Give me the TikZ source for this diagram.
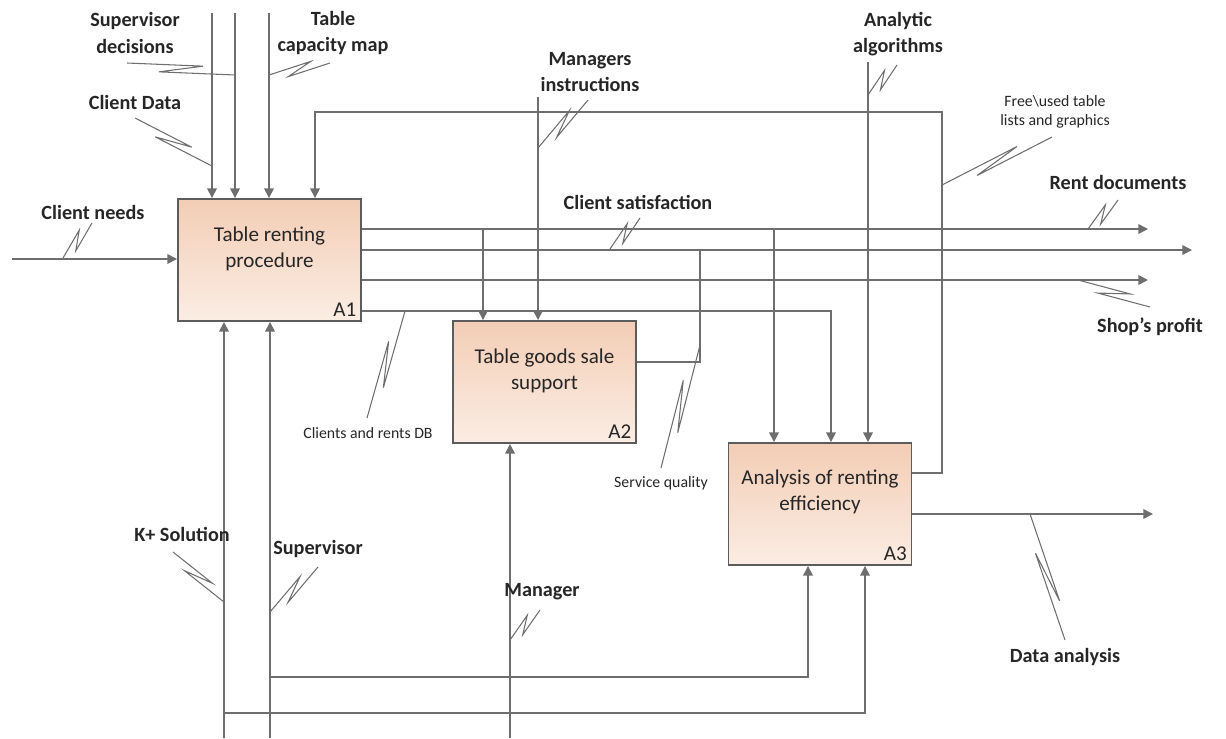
\documentclass[tikz,border=0pt]{standalone}
\usepackage{fontspec}
\setmainfont{Carlito}
\usetikzlibrary{arrows.meta, positioning, calc}

\definecolor{wire}{HTML}{6E6E6E}
\definecolor{edge}{HTML}{5C5C5C}
\definecolor{boxtop}{HTML}{F3CDB5}
\definecolor{boxbot}{HTML}{FBEDE4}
\definecolor{ink}{HTML}{262626}

\tikzset{
  fbox/.style={draw=edge, line width=1.1pt, top color=boxtop, bottom color=boxbot,
    minimum width=3.66cm, minimum height=2.44cm, inner sep=0pt},
  boxtext/.style={align=center, text=ink, font=\fontsize{12}{15}\selectfont},
  boxid/.style={text=ink, font=\fontsize{12}{14}\selectfont, inner sep=3pt},
  flow/.style={draw=wire, line width=0.85pt},
  arr/.style={flow, ->},
  squig/.style={draw=wire, line width=0.6pt, line join=miter},
  lbl/.style={align=center, text=ink, font=\fontsize{11.5}{15}\selectfont\bfseries},
  small/.style={align=center, text=ink, font=\fontsize{9}{11}\selectfont}
}

% IDEF0 squiggle: from the arrow to its label
\newcommand{\idefsquig}[2]{%
  \draw[squig] #1 -- ($#1!0.7!#2!3pt!90:#2$) -- ($#1!0.3!#2!3pt!-90:#2$) -- #2;}

\begin{document}
\begin{tikzpicture}[x=0.02cm, y=-0.02cm, >={Triangle[length=5.5pt,width=5.5pt]}]
\useasboundingbox (0,0) rectangle (1226,738);

% activities
\node[fbox] (A1) at (269.5,260) {};
\node[fbox] (A2) at (544.5,382) {};
\node[fbox] (A3) at (820,504) {};
\node[boxtext] (t1) at (269.5,249) {Table renting\\procedure};
\node[boxtext] (t2) at (544.5,371) {Table goods sale\\support};
\node[boxtext] (t3) at (820,492) {Analysis of renting\\efficiency};
\node[boxid, anchor=south east] (n1) at (A1.south east) {A1};
\node[boxid, anchor=south east] (n2) at (A2.south east) {A2};
\node[boxid, anchor=south east] (n3) at (A3.south east) {A3};

% free ends
\coordinate (cnIn) at (12,259);
\coordinate (cdTop) at (212,13);
\coordinate (sdTop) at (235,13);
\coordinate (tcTop) at (269,13);
\coordinate (miTop) at (538,97);
\coordinate (aaTop) at (868,62);
\coordinate (rdEnd) at (1148,229);
\coordinate (csEnd) at (1192,250);
\coordinate (spEnd) at (1148,280);
\coordinate (dbTurn) at (831,311);
\coordinate (rdA2) at (483,229);
\coordinate (rdA3) at (774,229);
\coordinate (sqUp) at (700,250);
\coordinate (sqTurn) at (700,362);
\coordinate (fbR) at (942,473);
\coordinate (fbT) at (942,112);
\coordinate (fbL) at (315,112);
\coordinate (daEnd) at (1153,514);
\coordinate (ksBot) at (224,738);
\coordinate (svBot) at (270,738);
\coordinate (mgBot) at (510,738);
\coordinate (svJog) at (270,677);
\coordinate (svA3) at (808,677);
\coordinate (ksJog) at (224,713);
\coordinate (ksA3) at (865,713);

% inputs and controls
\draw[arr] (cnIn) -- (cnIn -| A1.west);
\draw[arr] (cdTop) -- (cdTop |- A1.north);
\draw[arr] (sdTop) -- (sdTop |- A1.north);
\draw[arr] (tcTop) -- (tcTop |- A1.north);
\draw[arr] (miTop) -- (miTop |- A2.north);
\draw[arr] (aaTop) -- (aaTop |- A3.north);

% outputs of A1
\draw[arr] (rdEnd -| A1.east) -- (rdEnd);
\draw[arr] (csEnd -| A1.east) -- (csEnd);
\draw[arr] (spEnd -| A1.east) -- (spEnd);
\draw[arr] (rdA2) -- (rdA2 |- A2.north);
\draw[arr] (rdA3) -- (rdA3 |- A3.north);
\draw[arr] (dbTurn -| A1.east) -- (dbTurn) -- (dbTurn |- A3.north);

% A2 and A3 outputs
\draw[flow] (sqTurn -| A2.east) -- (sqTurn) -- (sqUp);
\draw[arr] (fbR -| A3.east) -- (fbR) -- (fbT) -- (fbL) -- (fbL |- A1.north);
\draw[arr] (daEnd -| A3.east) -- (daEnd);

% mechanisms
\draw[arr] (ksBot) -- (ksBot |- A1.south);
\draw[arr] (svBot) -- (svBot |- A1.south);
\draw[arr] (mgBot) -- (mgBot |- A2.south);
\draw[arr] (svJog) -- (svA3) -- (svA3 |- A3.south);
\draw[arr] (ksJog) -- (ksA3) -- (ksA3 |- A3.south);

% labels
\node[lbl] (lcn) at (93,212) {Client needs};
\node[lbl] (lsd) at (135,33) {Supervisor\\decisions};
\node[lbl] (ltc) at (333,33) {Table\\capacity map};
\node[lbl] (lcd) at (135,102) {Client Data};
\node[lbl] (lmi) at (590,72) {Managers\\instructions};
\node[lbl] (lcs) at (638,202) {Client satisfaction};
\node[lbl] (laa) at (898,34) {Analytic\\algorithms};
\node[small] (lfu) at (1055,112) {Free\textbackslash used table\\lists and graphics};
\node[lbl] (lrd) at (1118,182) {Rent documents};
\node[lbl] (lsp) at (1150,327) {Shop’s profit};
\node[small] (ldb) at (368,433) {Clients and rents DB};
\node[small] (lsq) at (661,483) {Service quality};
\node[lbl] (lks) at (182,534) {K+ Solution};
\node[lbl] (lsv) at (318,549) {Supervisor};
\node[lbl] (lmg) at (542,592) {Manager};
\node[lbl] (lda) at (1065,657) {Data analysis};

% squiggles
\idefsquig{(63,258)}{(92,223)}
\idefsquig{(235,75)}{(127,63)}
\idefsquig{(269,75)}{(330,63)}
\idefsquig{(212,166)}{(135,118)}
\idefsquig{(538,148)}{(588,100)}
\idefsquig{(610,249)}{(640,218)}
\idefsquig{(868,95)}{(897,65)}
\idefsquig{(942,185)}{(1052,137)}
\idefsquig{(1088,229)}{(1118,200)}
\idefsquig{(1078,280)}{(1150,307)}
\idefsquig{(405,311)}{(367,418)}
\idefsquig{(700,345)}{(661,468)}
\idefsquig{(224,602)}{(173,552)}
\idefsquig{(270,612)}{(318,567)}
\idefsquig{(510,640)}{(540,610)}
\idefsquig{(1030,514)}{(1065,640)}
\end{tikzpicture}
\end{document}
